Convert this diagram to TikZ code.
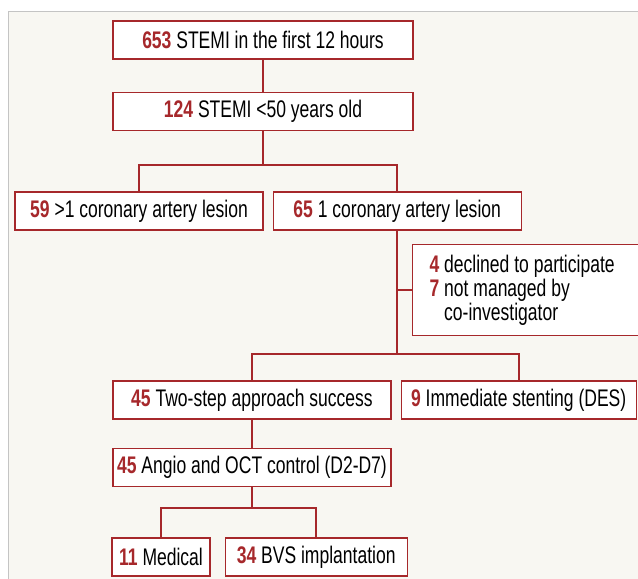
\documentclass[tikz,border=0pt]{standalone}
\usepackage{fontspec}
\setmainfont[FakeStretch=0.73]{Liberation Sans}
\usetikzlibrary{positioning,calc}
\definecolor{flowred}{HTML}{A6282B}
\definecolor{panelbg}{HTML}{F8F7F2}
\definecolor{panelrule}{HTML}{C4C4C4}
\newcommand{\cnt}[1]{\textcolor{flowred}{\textbf{#1}}}

\begin{document}
\begin{tikzpicture}[
  x=1pt, y=-1pt,
  node distance=32pt,
  every node/.style={font=\fontsize{24}{24}\selectfont},
  box/.style={draw=flowred, line width=1.2pt, fill=white, minimum height=38pt, inner xsep=4pt},
  link/.style={draw=flowred, line width=2pt},
]
\clip (0,0) rectangle (638,579);
\fill[panelbg, draw=panelrule, line width=1pt] (8,11) rectangle (660,600);

% --- Nodes -----------------------------------------------------
\node[box, minimum width=300pt] (n653) at (263,40) {\cnt{653} STEMI in the first 12 hours};
\node[box, minimum width=300pt, below=of n653] (n124) {\cnt{124} STEMI <50 years old};

% lesions
\node[box, minimum width=248pt] (n59) at (139,211) {\cnt{59} >1 coronary artery lesion};
\node[box, minimum width=248pt, right=9pt of n59] (n65) {\cnt{65} 1 coronary artery lesion};

% exclusions
\node[box, anchor=north west, minimum height=91pt, text width=210pt, inner xsep=17pt, align=flush left] (excl) at (412,244)
  {\cnt{4} declined to participate\\
   \cnt{7} not managed by\\
   \phantom{\cnt{7} }co-investigator};

% strategy
\node[box, minimum width=278pt] (twostep) at (252,400) {\cnt{45} Two-step approach success};
\node[box, minimum width=235pt, right=9pt of twostep] (immed) {\cnt{9} Immediate stenting (DES)};
\node[box, minimum width=278pt, below=28pt of twostep] (angio) {\cnt{45} Angio and OCT control (D2-D7)};

% outcome
\node[box, minimum width=98pt] (medical) at (161,557) {\cnt{11} Medical};
\node[box, minimum width=182pt, right=14pt of medical] (bvs) {\cnt{34} BVS implantation};

% --- Connectors ------------------------------------------------
\draw[link] (n653) -- (n124);
\draw[link] (n124.south) -- ++(0,34) coordinate (j1);
\draw[link] (j1) -| (n59);
\draw[link] (j1) -| (n65);

\draw[link] (n65.south) -- ++(0,123) coordinate (j2);
\draw[link] (n65.south |- excl.west) -- (excl.west);
\draw[link] (j2) -| (twostep);
\draw[link] (j2) -| (immed);

\draw[link] (twostep) -- (angio);
\draw[link] (angio.south) -- ++(0,21) coordinate (j3);
\draw[link] (j3) -| (medical);
\draw[link] (j3) -| (bvs);

\end{tikzpicture}
\end{document}
